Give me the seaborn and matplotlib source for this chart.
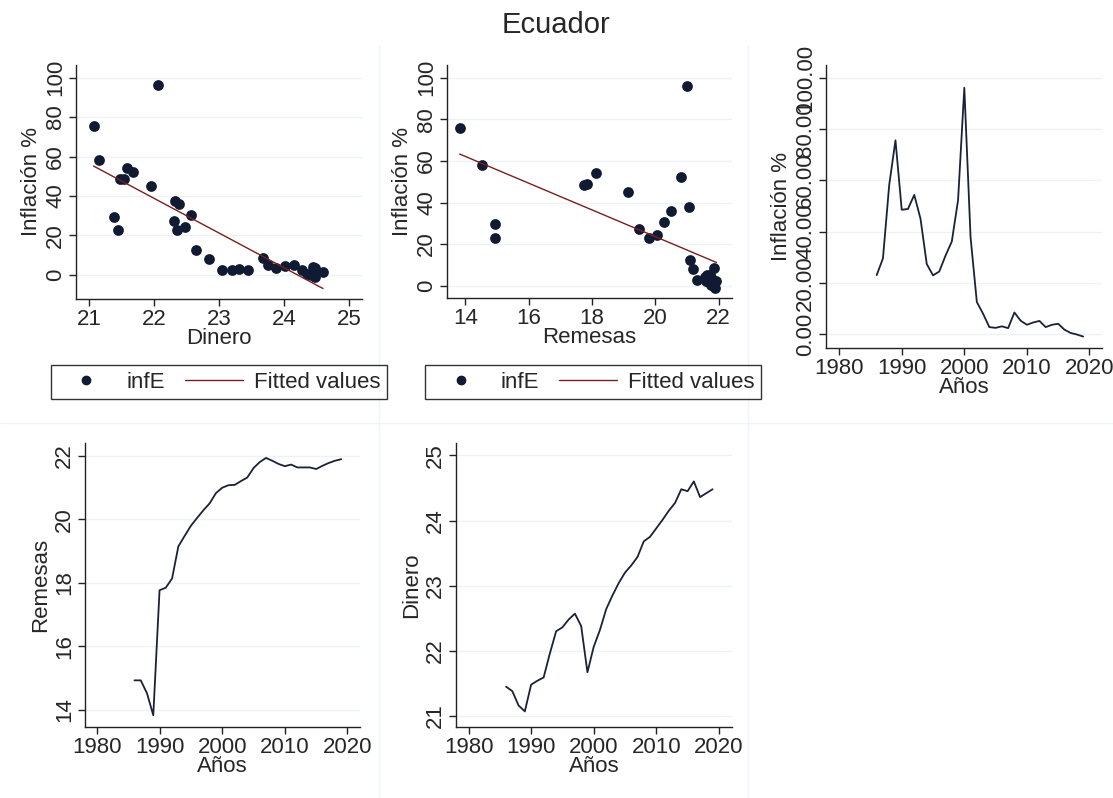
import numpy as np
import pandas as pd
import matplotlib
matplotlib.use("Agg")
import matplotlib.pyplot as plt
from matplotlib.lines import Line2D
import seaborn as sns

# data (Ecuador, 1986-2019)
years = list(range(1986, 2020))
inflacion = [23.0, 29.5, 58.2, 75.6, 48.5, 48.8, 54.3, 45.0, 27.3, 22.9,
             24.4, 30.6, 36.1, 52.2, 96.1, 37.7, 12.5, 7.9, 2.7, 2.4,
             3.0, 2.3, 8.4, 5.2, 3.6, 4.5, 5.1, 2.7, 3.6, 4.0,
             1.7, 0.4, -0.2, -1.0]
remesas = [14.92, 14.92, 14.51, 13.82, 17.76, 17.84, 18.13, 19.14, 19.47, 19.79,
           20.04, 20.28, 20.50, 20.82, 20.99, 21.07, 21.08, 21.20, 21.31, 21.61,
           21.80, 21.93, 21.84, 21.74, 21.67, 21.72, 21.63, 21.63, 21.63, 21.58,
           21.68, 21.77, 21.84, 21.89]
dinero = [21.45, 21.38, 21.16, 21.07, 21.48, 21.54, 21.59, 21.96, 22.30, 22.36,
          22.48, 22.57, 22.38, 21.67, 22.06, 22.32, 22.64, 22.85, 23.04, 23.20,
          23.31, 23.44, 23.68, 23.75, 23.88, 24.01, 24.15, 24.27, 24.48, 24.45,
          24.60, 24.36, 24.42, 24.48]

df = pd.DataFrame({"Años": years, "infE": inflacion,
                   "Remesas": remesas, "Dinero": dinero})

sns.set_style("white")
plt.rcParams["font.family"] = ["Liberation Sans", "DejaVu Sans"]

W, H = 1113, 798
fig = plt.figure(figsize=(W / 100, H / 100), dpi=100)
fig.patch.set_facecolor("white")

DOT = "#111a33"
FIT = "#7a1f1f"
LINE = "#1c2236"
GRID = "#edf2f5"
FS = 16


def px_axes(l, t, r, b):
    return fig.add_axes([l / W, 1 - b / H, (r - l) / W, (b - t) / H])


def style(ax, xticks, yticks, xlim, ylim, xlabel, ylabel, yfmt=None):
    ax.set_xlim(*xlim)
    ax.set_ylim(*ylim)
    ax.set_xticks(xticks)
    ax.set_yticks(yticks)
    if yfmt:
        ax.set_yticklabels([yfmt % v for v in yticks])
    for s in ["top", "right"]:
        ax.spines[s].set_visible(False)
    for s in ["left", "bottom"]:
        ax.spines[s].set_color("#222222")
        ax.spines[s].set_linewidth(1.0)
    ax.tick_params(axis="both", direction="out", length=5, width=1,
                   color="#222222", labelsize=FS, pad=2, left=True, bottom=True)
    ax.tick_params(axis="y", labelrotation=90)
    for lab in ax.get_yticklabels():
        lab.set_va("center")
    ax.yaxis.grid(True, color=GRID, lw=1)
    ax.xaxis.grid(False)
    ax.set_axisbelow(True)
    ax.set_xlabel(xlabel, fontsize=FS, labelpad=-1)
    ax.set_ylabel(ylabel, fontsize=FS, labelpad=2)


# scatter: inflacion vs dinero
ax1 = px_axes(76, 65, 362, 299)
sns.scatterplot(data=df, x="Dinero", y="infE", ax=ax1, color=DOT, s=60,
                edgecolor=DOT, linewidth=0, legend=False)
sns.regplot(data=df, x="Dinero", y="infE", ax=ax1, scatter=False, ci=None,
            truncate=True, line_kws={"color": FIT, "lw": 1.0})
style(ax1, [21, 22, 23, 24, 25], [0, 20, 40, 60, 80, 100],
      (20.8, 25.2), (-12.2, 106.4), "Dinero", "Inflación %")

# scatter: inflacion vs remesas
ax2 = px_axes(447, 65, 732, 298)
sns.scatterplot(data=df, x="Remesas", y="infE", ax=ax2, color=DOT, s=60,
                edgecolor=DOT, linewidth=0, legend=False)
sns.regplot(data=df, x="Remesas", y="infE", ax=ax2, scatter=False, ci=None,
            truncate=True, line_kws={"color": FIT, "lw": 1.0})
style(ax2, [14, 16, 18, 20, 22], [0, 20, 40, 60, 80, 100],
      (13.42, 22.42), (-5.9, 106.1), "Remesas", "Inflación %")

# legends under the scatters
handles = [Line2D([], [], marker="o", ls="", color=DOT, markersize=6),
           Line2D([], [], color=FIT, lw=1.0)]
for cx in (219, 593):
    leg = fig.legend(handles, ["infE", "Fitted values"], ncol=2,
                     loc="upper center", bbox_to_anchor=(cx / W, 1 - 365 / H),
                     fontsize=FS, frameon=True, fancybox=False,
                     handlelength=2.6, columnspacing=0.9, handletextpad=0.5,
                     borderpad=0.3, borderaxespad=0)
    leg.get_frame().set_edgecolor("black")
    leg.get_frame().set_linewidth(1.0)

# time series: inflacion
ax3 = px_axes(826, 65, 1102, 348)
sns.lineplot(data=df, x="Años", y="infE", ax=ax3, color=LINE, lw=1.3)
style(ax3, [1980, 1990, 2000, 2010, 2020], [0, 20, 40, 60, 80, 100],
      (1977.9, 2022), (-5.46, 105), "Años", "Inflación %", yfmt="%.2f")

# time series: remesas
ax4 = px_axes(85, 443, 360, 727)
sns.lineplot(data=df, x="Años", y="Remesas", ax=ax4, color=LINE, lw=1.3)
style(ax4, [1980, 1990, 2000, 2010, 2020], [14, 16, 18, 20, 22],
      (1978.1, 2022), (13.45, 22.4), "Años", "Remesas")

# time series: dinero
ax5 = px_axes(456, 443, 732, 727)
sns.lineplot(data=df, x="Años", y="Dinero", ax=ax5, color=LINE, lw=1.3)
style(ax5, [1980, 1990, 2000, 2010, 2020], [21, 22, 23, 24, 25],
      (1978, 2022.1), (20.83, 25.19), "Años", "Dinero")

# faint separators between the combined panels
for x in (379, 748):
    fig.add_artist(Line2D([x / W, x / W], [0, 1 - 45 / H], color="#eef4f7", lw=1))
fig.add_artist(Line2D([0, 1], [1 - 423 / H, 1 - 423 / H], color="#eef4f7", lw=1))

fig.text(0.5, 1 - 25 / H, "Ecuador", ha="center", va="center", fontsize=21)

fig.savefig("out.png", dpi=100, facecolor="white")
